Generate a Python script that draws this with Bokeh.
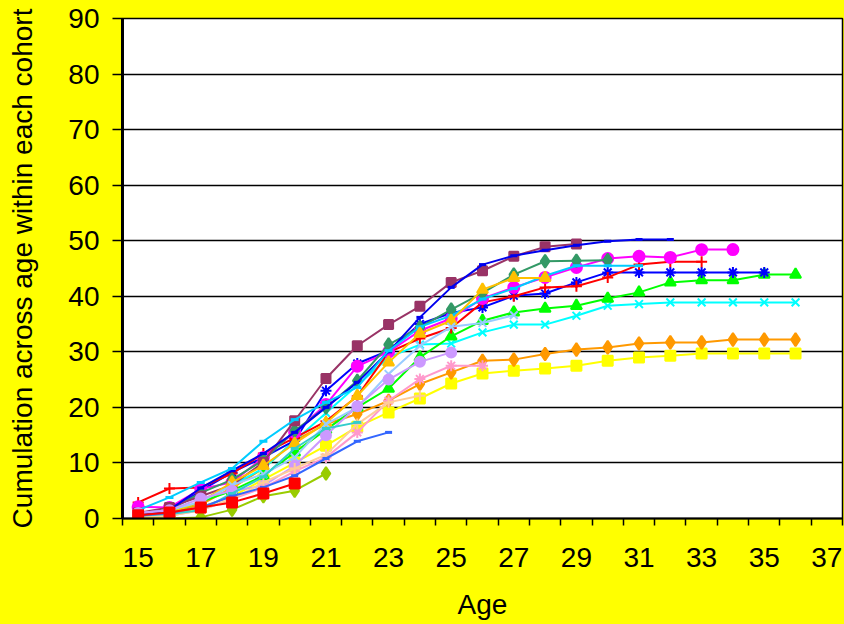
from bokeh.plotting import figure
from bokeh.models import Range1d, FixedTicker
from bokeh.embed import file_html
from bokeh.resources import INLINE

# ---- data (cumulation by age, each cohort starts at age 15) ----
start_age = 15
x_tick_labels = [15, 17, 19, 21, 23, 25, 27, 29, 31, 33, 35, 37]
y_ticks = [0, 10, 20, 30, 40, 50, 60, 70, 80, 90]
y_title = "Cumulation across age within each cohort"
x_title = "Age"

navy_dash = [0.5, 1.5, 5.5, 8.6, 11.7, 15.5, 20.0, 24.5, 30.0, 36.2, 41.6, 45.7, 47.3, 48.3, 49.2, 49.9, 50.2, 50.2]
maroon_square = [1.0, 2.0, 4.0, 6.0, 10.1, 17.6, 25.2, 31.1, 34.9, 38.2, 42.5, 44.6, 47.2, 48.9, 49.4]
seagreen_diamond = [0.8, 1.5, 4.6, 7.0, 10.5, 15.8, 20.0, 24.8, 31.3, 34.4, 37.6, 40.6, 43.9, 46.3, 46.4, 46.5]
magenta_circle = [2.1, 2.0, 5.3, 6.5, 11.0, 15.5, 20.5, 27.4, 30.0, 33.8, 36.0, 39.6, 41.6, 43.4, 45.2, 46.8, 47.2, 47.0, 48.4, 48.4]
red_plus = [2.9, 5.4, 5.6, 8.1, 11.7, 14.5, 17.5, 22.0, 29.9, 32.4, 34.3, 38.9, 40.0, 41.6, 41.8, 43.4, 45.7, 46.2, 46.2]
blue_asterisk = [1.0, 1.5, 5.0, 8.3, 11.0, 14.0, 23.0, 27.9, 30.2, 35.0, 37.0, 38.0, 40.1, 40.5, 42.5, 44.3, 44.3, 44.3, 44.3, 44.3, 44.3]
green_triangle = [0.5, 1.0, 3.0, 5.0, 7.7, 11.9, 16.0, 20.0, 23.4, 29.0, 32.8, 35.6, 37.1, 37.8, 38.3, 39.6, 40.7, 42.5, 42.9, 42.9, 43.9, 43.9]
cyan_x = [0.5, 1.0, 3.0, 6.0, 9.0, 14.0, 19.0, 24.0, 29.0, 31.3, 31.5, 33.5, 34.9, 34.9, 36.5, 38.3, 38.6, 38.9, 38.9, 38.9, 38.9, 38.9]
orange_diamond = [0.5, 1.0, 2.5, 5.5, 9.0, 14.0, 17.0, 18.8, 21.2, 24.2, 26.3, 28.4, 28.6, 29.6, 30.4, 30.8, 31.5, 31.7, 31.7, 32.2, 32.2, 32.2]
yellow_square = [0.2, 0.5, 2.0, 4.0, 7.0, 10.0, 13.1, 16.5, 19.1, 21.6, 24.3, 26.1, 26.6, 27.0, 27.5, 28.4, 29.0, 29.3, 29.7, 29.7, 29.7, 29.7]
gold_triangle = [0.5, 1.0, 3.0, 6.5, 9.5, 13.5, 17.2, 22.1, 28.1, 33.3, 35.6, 41.2, 43.3, 43.3]
skyblue_dash = [1.5, 3.8, 6.5, 9.0, 13.9, 17.8, 20.9, 23.6, 30.2, 34.5, 36.5, 39.5, 41.4, 43.7, 45.5, 45.5, 45.5]
lightblue_x = [1.0, 1.5, 3.0, 6.0, 8.0, 11.0, 17.0, 20.0, 26.0, 31.1, 34.5, 35.2, 36.6]
lavender_circle = [1.0, 1.5, 3.6, 5.0, 5.9, 9.5, 15.0, 20.2, 25.0, 28.2, 29.9]
pink_asterisk = [0.3, 0.5, 1.5, 3.5, 5.5, 8.5, 11.0, 15.5, 21.2, 25.1, 27.5, 27.5]
peach_plus = [0.3, 0.5, 1.5, 3.5, 6.5, 9.0, 11.5, 17.0, 20.9, 22.1]
teal_dash = [0.5, 0.8, 1.5, 4.5, 7.5, 12.6, 16.2, 17.3]
cornflower_dash = [0.5, 1.0, 2.0, 4.0, 5.6, 7.7, 10.8, 13.9, 15.5]
yellowgreen_diamond = [0.0, 0.0, 0.2, 1.6, 4.0, 5.0, 8.1]
red_square = [0.6, 1.1, 2.0, 2.9, 4.5, 6.3]

# (values, colour, marker, marker size)
series = [
    (yellow_square, "#FFFF00", "square", 10),
    (orange_diamond, "#FF9900", "diamond", 13),
    (cyan_x, "#00FFFF", "x", 11),
    (green_triangle, "#00FF00", "triangle", 11),
    (blue_asterisk, "#0000FF", "asterisk", 11),
    (red_plus, "#FF0000", "cross", 11),
    (magenta_circle, "#FF00FF", "circle", 11),
    (seagreen_diamond, "#339966", "diamond", 13),
    (maroon_square, "#993366", "square", 9),
    (navy_dash, "#0000EE", "dash", 7),
    (skyblue_dash, "#00CCFF", "dash", 8),
    (gold_triangle, "#FFC000", "triangle", 11),
    (lightblue_x, "#99CCFF", "x", 11),
    (lavender_circle, "#CC99FF", "circle", 10),
    (pink_asterisk, "#FF99CC", "asterisk", 11),
    (peach_plus, "#FFCC99", "cross", 11),
    (teal_dash, "#33CCCC", "dash", 8),
    (cornflower_dash, "#3366FF", "dash", 7),
    (yellowgreen_diamond, "#99CC00", "diamond", 13),
    (red_square, "#FF0000", "square", 10),
]

FONT = "Liberation Sans"

p = figure(width=844, height=624, output_backend="svg", toolbar_location=None,
           x_range=Range1d(14.5, 37.5), y_range=Range1d(0, 90),
           min_border_left=122, min_border_right=2, min_border_top=18,
           min_border_bottom=106)

p.background_fill_color = "white"
p.border_fill_color = "#FFFF00"
p.outline_line_color = "black"
p.outline_line_width = 1.5

for vals, col, mk, sz in series:
    xs = [start_age + i for i in range(len(vals))]
    p.line(xs, vals, line_color=col, line_width=2)
    lw = 3 if mk == "dash" else 2
    p.scatter(xs, vals, marker=mk, size=sz, fill_color=col, line_color=col,
              line_width=lw)

# x axis (category-style: ticks between ages, labels every 2nd age)
p.xaxis.ticker = FixedTicker(ticks=x_tick_labels,
                             minor_ticks=[14.5 + i for i in range(24)])
p.xaxis.major_tick_in = 0
p.xaxis.major_tick_out = 0
p.xaxis.minor_tick_in = 0
p.xaxis.minor_tick_out = 7
p.xaxis.minor_tick_line_color = "black"
p.xaxis.minor_tick_line_width = 1.5
p.xaxis.axis_line_color = "black"
p.xaxis.axis_line_width = 2
p.xaxis.major_label_text_font = FONT
p.xaxis.major_label_text_font_size = "28px"
p.xaxis.major_label_text_color = "black"
p.xaxis.major_label_standoff = 22
p.xaxis.axis_label = x_title
p.xaxis.axis_label_text_font = FONT
p.xaxis.axis_label_text_font_size = "28px"
p.xaxis.axis_label_text_font_style = "normal"
p.xaxis.axis_label_text_color = "black"
p.xaxis.axis_label_standoff = 19

# y axis
p.yaxis.ticker = FixedTicker(ticks=y_ticks, minor_ticks=[])
p.yaxis.major_tick_in = 0
p.yaxis.major_tick_out = 10
p.yaxis.major_tick_line_color = "black"
p.yaxis.major_tick_line_width = 1.5
p.yaxis.axis_line_color = "black"
p.yaxis.axis_line_width = 3
p.yaxis.major_label_text_font = FONT
p.yaxis.major_label_text_font_size = "28px"
p.yaxis.major_label_text_color = "black"
p.yaxis.major_label_standoff = 13
p.yaxis.axis_label = y_title
p.yaxis.axis_label_text_font = FONT
p.yaxis.axis_label_text_font_size = "28px"
p.yaxis.axis_label_text_font_style = "normal"
p.yaxis.axis_label_text_color = "black"
p.yaxis.axis_label_standoff = 27

p.xgrid.grid_line_color = None
p.ygrid.grid_line_color = "black"
p.ygrid.grid_line_width = 1.5

html = file_html(p, INLINE)
html = html.replace("</head>",
                    "<style>html,body{margin:0;padding:0;background:#FFFF00;overflow:hidden}</style></head>", 1)
open("out.html", "w").write(html)
